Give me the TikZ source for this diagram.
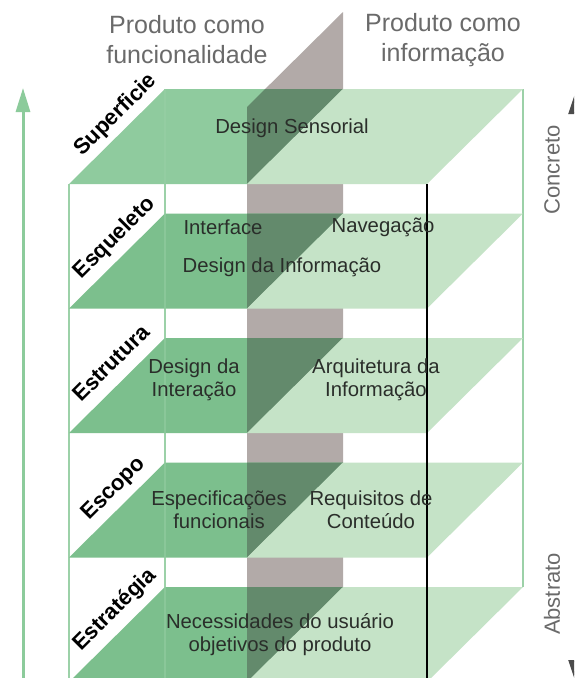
\documentclass[tikz,border=0pt]{standalone}
\usepackage{fontspec}
\setmainfont{Liberation Sans}
\usetikzlibrary{arrows.meta}
\definecolor{dkg}{HTML}{7CBF8D}
\definecolor{topg}{HTML}{8FCB9E}
\definecolor{ovl}{HTML}{638A6C}
\definecolor{ltg}{HTML}{C5E3C7}
\definecolor{grayp}{HTML}{B2AAA8}
\definecolor{boxg}{HTML}{9CD1A8}
\definecolor{arrg}{HTML}{8CCB9B}
\definecolor{txtd}{HTML}{2A2E2A}
\definecolor{txtg}{HTML}{6A6A6A}
\newcommand\drawlayer[3]{%
  \fill[#2] (165,#1) -- (343,#1) -- (247,#1+95) -- (69,#1+95) -- cycle;
  \begin{scope}
    \clip (247,107) -- (343,12) -- (343,700) -- (247,700) -- cycle;
    \fill[#3] (165,#1) -- (343,#1) -- (247,#1+95) -- (69,#1+95) -- cycle;
  \end{scope}
  \fill[ltg] (343,#1) -- (523,#1) -- (427,#1+95) -- (247,#1+95) -- cycle;
}
\begin{document}
\begin{tikzpicture}[x=1pt,y=-1pt,
  boxline/.style={draw=boxg,line width=1.6pt},
  layertxt/.style={inner sep=0pt,align=center,text=txtd,font=\fontsize{20.3}{23}\selectfont},
  lbl/.style={inner sep=0pt,text=black,font=\bfseries\fontsize{22}{26}\selectfont,rotate=45},
  ttl/.style={inner sep=0pt,align=center,text=txtg,font=\fontsize{25}{30}\selectfont},
  side/.style={inner sep=0pt,text=txtg,font=\fontsize{22}{26}\selectfont,rotate=90}]
\useasboundingbox (0,0) rectangle (574,678);
\clip (0,0) rectangle (574,678);
\fill[white] (0,0) rectangle (574,678);
% gray dividing plane
\fill[grayp] (247,107) -- (343,12) -- (343,700) -- (247,700) -- cycle;
% box lines behind
\draw[boxline] (69,184) -- (69,700);
\draw[boxline] (165,89) -- (165,700);
\draw[boxline] (523,89) -- (523,587);
% layers
\drawlayer{89}{topg}{ovl}
\drawlayer{213.5}{dkg}{ovl}
\drawlayer{338}{dkg}{ovl}
\drawlayer{462.5}{dkg}{ovl}
\drawlayer{587}{dkg}{ovl}
% faint back-left line through layers
\draw[draw=boxg,line width=1.2pt,opacity=0.45] (165,89) -- (165,700);
% front-right black line
\coordinate (bl0) at (427,184);
\coordinate (bl1) at (427,700);
\draw[black,line width=1.6pt] (bl0) -- (bl1);
% left arrow
\coordinate (la0) at (23,700);
\coordinate (la1) at (23,88);
\draw[arrg,line width=3pt,-{Triangle[width=14pt,length=24pt]}] (la0) -- (la1);
% right arrow
\coordinate (ra0) at (575.5,92);
\coordinate (ra1) at (575.5,682);
\draw[black!70,line width=2pt,{Triangle[width=14pt,length=22pt]}-{Triangle[width=14pt,length=22pt]}] (ra0) -- (ra1);
% titles
\node[ttl] (t1) at (187,40) {Produto como\\funcionalidade};
\node[ttl] (t2) at (443,40) {Produto como\\informação};
% side labels
\node[side] (conc) at (552,170) {Concreto};
\node[side] (abst) at (552,594) {Abstrato};
% layer labels
\node[lbl] (lsup) at (116,115) {Superficie};
\node[lbl] (lesq) at (115,238) {Esqueleto};
\node[lbl] (lest) at (111,363) {Estrutura};
\node[lbl] (lesc) at (114,489) {Escopo};
\node[lbl] (lestr) at (115,610) {Estratégia};
% layer texts
\node[layertxt] (ds) at (292,128) {Design Sensorial};
\node[layertxt] (itf) at (223,227) {Interface};
\node[layertxt] (nav) at (383,227) {Navegação};
\node[layertxt] (dinf) at (282,267) {Design da Informação};
\node[layertxt] (dint) at (194,380) {Design da\\Interação};
\node[layertxt] (ainf) at (376,380) {Arquitetura da\\Informação};
\node[layertxt] (espf) at (219,510) {Especificações\\funcionais};
\node[layertxt] (reqc) at (371,510) {Requisitos de\\Conteúdo};
\node[layertxt] (neces) at (280,635) {Necessidades do usuário\\objetivos do produto};
\end{tikzpicture}
\end{document}
